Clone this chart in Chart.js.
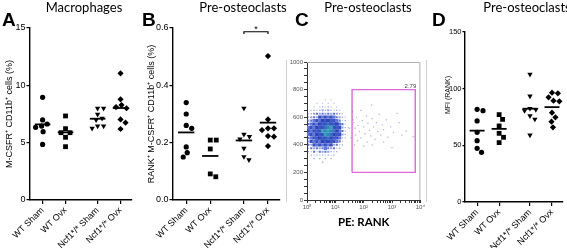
<!DOCTYPE html>
<html>
<head>
<meta charset="utf-8">
<script src="https://cdn.jsdelivr.net/npm/chart.js@4.4.1/dist/chart.umd.min.js"></script>
<style>
  body { margin: 0; background: #fff; }
  #fig { position: relative; width: 567px; height: 248px; overflow: hidden; font-family: 'Liberation Sans', Arial, sans-serif; }
  canvas, .t { position: absolute; }
  .letter { font: bold 19px 'Liberation Sans', Arial, sans-serif; line-height: 19px; top: 10px; }
  .title { font: 13px Lato, sans-serif; line-height: 13px; top: 1px; width: 120px; text-align: center; }
  .sep { position: absolute; top: 60px; height: 142px; width: 1px; background: #d0d0d0; }
  .ytitle { font: 7px 'Liberation Sans', Arial, sans-serif; line-height: 8px; width: 60px; text-align: center; transform: rotate(-90deg); color: #000; }
</style>
</head>
<body>
<div id="fig">
  <canvas id="cA" width="140" height="248" style="left:0;top:0"></canvas>
  <canvas id="cB" width="148" height="248" style="left:140px;top:0"></canvas>
  <canvas id="cC" width="138" height="248" style="left:288px;top:0"></canvas>
  <canvas id="cD" width="139" height="248" style="left:428px;top:0"></canvas>
  <div class="sep" style="left:286px"></div>
  <div class="sep" style="left:426px"></div>
  <div class="t letter" style="left:2px">A</div>
  <div class="t letter" style="left:142px">B</div>
  <div class="t letter" style="left:295px">C</div>
  <div class="t letter" style="left:432px">D</div>
  <div class="t title" style="left:24px">Macrophages</div>
  <div class="t title" style="left:183px">Pre-osteoclasts</div>
  <div class="t title" style="left:308px">Pre-osteoclasts</div>
  <div class="t title" style="left:467px">Pre-osteoclasts</div>
  <div class="t ytitle" style="left:418px;top:91px">MFI (RANK)</div>
</div>
<script>
const FONT = "'Liberation Sans', Arial, sans-serif";
Chart.defaults.animation = false;
Chart.defaults.font.family = FONT;
Chart.defaults.color = '#000';

const groupNames = ['WT Sham', 'WT Ovx', 'Ncf1*/* Sham', 'Ncf1*/* Ovx'];
const groupPos = [1, 2, 3.4, 4.4];
const markerStyles = ['circle', 'rect', 'triangle', 'rectRot'];
const markerRadius = [2.6, 3.4, 3.1, 3.1];

// A: M-CSFR+ CD11b+ cells (%)
const macroWtSham = [8.95, 6.98, 6.63, 6.45, 6.34, 5.96, 4.85];
const macroWtOvx = [7.33, 6.22, 5.87, 5.87, 5.47, 4.65];
const macroNcfSham = [7.99, 7.99, 7.47, 7.12, 6.98, 6.45, 6.45, 6.25];
const macroNcfOvx = [11.05, 8.78, 8.28, 8.1, 8.0, 7.03, 6.74, 6.19];

// B: RANK+ M-CSFR+ CD11b+ cells (%)
const preWtSham = [0.34, 0.30, 0.26, 0.25, 0.185, 0.165, 0.15];
const preWtOvx = [0.209, 0.209, 0.178, 0.091, 0.081];
const preNcfSham = [0.32, 0.229, 0.221, 0.213, 0.18, 0.151, 0.14];
const preNcfOvx = [0.502, 0.281, 0.25, 0.25, 0.244, 0.223, 0.221, 0.188];
const sigPair = [2, 3];
const sigLevel = 0.587;
const sigLabel = '*';

// D: MFI (RANK)
const mfiWtSham = [81.8, 80.6, 71.5, 61.5, 54.1, 47.4, 43.8];
const mfiWtOvx = [77.1, 72.9, 67.1, 60.6, 57.1, 52.4];
const mfiNcfSham = [112.6, 93.5, 82.5, 81.5, 80.5, 76, 73, 59];
const mfiNcfOvx = [96.5, 95.9, 92.4, 89.4, 88.8, 78.8, 74.7, 70.9, 65.9];

// C: flow plot, density read per bin (x in decades of PE, y in SSC units)
const flowYTop = 725, flowDY = 25, flowX0 = 0.05, flowDX = 0.1;
const flowDensity = [
  '000000101000000',
  '000101010100000',
  '001011111010000',
  '011112121111000',
  '112222222221100',
  '122233333322110',
  '223334444332110',
  '233344555443210',
  '333445566543211',
  '333456666543210',
  '333445665443210',
  '233444554433110',
  '233334444332100',
  '223333333221100',
  '122222322211000',
  '112122221110000',
  '011111111100000',
  '001010101000000',
  '000001000000000'
];
const flowSparse = [
  [1.5, 520], [1.55, 450], [1.62, 580], [1.65, 560], [1.7, 520], [1.72, 470], [1.75, 600],
  [1.8, 540], [1.85, 495], [1.9, 450], [1.95, 575], [2.0, 530], [2.05, 480], [2.1, 610],
  [2.12, 420], [2.15, 555], [2.2, 505], [2.25, 465], [2.28, 688], [2.3, 590], [2.35, 530],
  [2.4, 440], [2.45, 560], [2.5, 495], [2.55, 620], [2.6, 470], [2.65, 545], [2.7, 510],
  [2.8, 580], [2.85, 455], [2.95, 530], [3.05, 490], [3.18, 628], [3.25, 560], [3.35, 470],
  [3.5, 500], [3.75, 460], [1.68, 400], [1.78, 430], [2.0, 390], [2.3, 400], [2.7, 420],
  [3.0, 380], [1.6, 640], [1.9, 650]
];
const gateX = [1.59, 3.82];
const gateY = [200, 800];
const gateLabel = '2.79';
const supDigits = '⁰¹²³⁴';

function swarm(values, pxX, pxY, d) {
  const placed = [];
  return values.map(v => {
    const py = v * pxY;
    for (let s = 0; s < 80; s++) {
      const o = s === 0 ? 0 : (s % 2 ? 1 : -1) * Math.ceil(s / 2) * 0.5;
      if (placed.every(p => (p.o - o) ** 2 + (p.py - py) ** 2 >= d * d)) {
        placed.push({ o, py });
        return { x: o / pxX, y: v };
      }
    }
    return { x: 0, y: v };
  });
}

function dotChart(id, groups, cfg) {
  const xMin = 0.45, xMax = 4.9;
  const pxX = cfg.plotW / (xMax - xMin), pxY = cfg.plotH / cfg.yMax;
  const tickSize = cfg.tickFont || 9;
  const datasets = [];
  groups.forEach((vals, i) => {
    datasets.push({
      data: swarm(vals, pxX, pxY, 5.8).map(p => ({ x: groupPos[i] + p.x, y: p.y })),
      pointStyle: markerStyles[i],
      pointRotation: i === 2 ? 180 : 0,
      pointRadius: markerRadius[i],
      backgroundColor: '#000',
      borderColor: '#000',
      borderWidth: 0
    });
    const m = vals.reduce((a, b) => a + b, 0) / vals.length;
    datasets.push({
      data: [{ x: groupPos[i] - 0.34, y: m }, { x: groupPos[i] + 0.34, y: m }],
      showLine: true, borderColor: '#000', borderWidth: 1.8, pointRadius: 0
    });
  });
  if (cfg.extra) datasets.push(...cfg.extra);

  return new Chart(document.getElementById(id), {
    type: 'scatter',
    data: { datasets },
    options: {
      responsive: false,
      events: [],
      layout: { padding: { top: cfg.top, right: cfg.right, left: 0, bottom: 0 } },
      plugins: { legend: { display: false }, tooltip: { enabled: false } },
      scales: {
        x: {
          type: 'linear', min: xMin, max: xMax,
          afterBuildTicks: s => { s.ticks = groupPos.map(v => ({ value: v })); },
          afterFit: s => { s.height = cfg.xAxisH; },
          ticks: {
            autoSkip: false, maxRotation: 45, minRotation: 45, padding: 1,
            font: { size: 9 }, color: '#000',
            callback: v => groupNames[groupPos.indexOf(v)]
          },
          grid: { drawOnChartArea: false, color: '#000', tickLength: 4, lineWidth: 1.2 },
          border: { color: '#000', width: 1.4 }
        },
        y: {
          min: 0, max: cfg.yMax,
          afterFit: s => { s.width = cfg.yAxisW; },
          ticks: {
            stepSize: cfg.yStep, padding: 1, font: { size: tickSize }, color: '#000',
            callback: v => v.toFixed(cfg.decimals || 0)
          },
          grid: { drawOnChartArea: false, color: '#000', tickLength: cfg.tickLen || 3.5, lineWidth: 1.2 },
          border: { color: '#000', width: 1.4 },
          title: {
            display: !!cfg.yTitle, text: cfg.yTitle, font: { size: 9 }, color: '#000',
            padding: { top: cfg.titlePad || 0, bottom: 0 }
          }
        }
      }
    },
    plugins: cfg.plugins || []
  });
}

// A
dotChart('cA', [macroWtSham, macroWtOvx, macroNcfSham, macroNcfOvx], {
  plotW: 102, plotH: 172, yMax: 15, yStep: 5, top: 28, right: 8, yAxisW: 30, xAxisH: 48,
  yTitle: 'M-CSFR⁺ CD11b⁺ cells (%)', titlePad: 4.6
});

// B
const sigPlugin = {
  id: 'sig',
  afterDatasetsDraw(chart) {
    const { ctx, scales: { x, y } } = chart;
    const xm = (x.getPixelForValue(groupPos[sigPair[0]]) + x.getPixelForValue(groupPos[sigPair[1]])) / 2;
    ctx.save();
    ctx.font = `9px ${FONT}`;
    ctx.textAlign = 'center';
    ctx.fillStyle = '#000';
    ctx.fillText(sigLabel, xm, y.getPixelForValue(sigLevel));
    ctx.restore();
  }
};
dotChart('cB', [preWtSham, preWtOvx, preNcfSham, preNcfOvx], {
  plotW: 107, plotH: 172, yMax: 0.6, yStep: 0.2, decimals: 1, top: 28, right: 8, yAxisW: 33, xAxisH: 48,
  yTitle: 'RANK⁺ M-CSFR⁺ CD11b⁺ cells (%)', titlePad: 6.6,
  extra: [{
    data: [
      { x: groupPos[sigPair[0]], y: sigLevel - 0.008 }, { x: groupPos[sigPair[0]], y: sigLevel },
      { x: groupPos[sigPair[1]], y: sigLevel }, { x: groupPos[sigPair[1]], y: sigLevel - 0.008 }
    ],
    showLine: true, borderColor: '#000', borderWidth: 1.2, pointRadius: 0
  }],
  plugins: [sigPlugin]
});

// D
dotChart('cD', [mfiWtSham, mfiWtOvx, mfiNcfSham, mfiNcfOvx], {
  plotW: 100, plotH: 170, yMax: 150, yStep: 50, top: 32, right: 2, yAxisW: 37, xAxisH: 46,
  tickFont: 7.5, tickLen: 2.5
});

// C
const levelColor = [
  [], ['rgba(110,130,220,0.45)', 'rgba(70,90,200,0.55)'], ['rgba(80,100,215,0.6)', 'rgba(50,70,190,0.75)'],
  ['#6078d8', '#3a50c2'], ['#3f58c8', '#2c43b6'], ['#3c6cc4', '#2f52be'], ['#3aa2b8', '#3584c0']
];
const levelRadius = [0, 0.9, 1.5, 2.3, 2.5, 2.5, 2.5];
const flowCells = [];
flowDensity.forEach((row, r) => {
  [...row].forEach((ch, c) => {
    const level = +ch;
    if (level > 0) flowCells.push({ x: flowX0 + c * flowDX, y: flowYTop - r * flowDY, level, shade: (r + c) % 2 });
  });
});
flowCells.sort((a, b) => a.level - b.level);

const flowTicks = [];
for (let n = 0; n < 4; n++) for (let k = 1; k < 10; k++) flowTicks.push(n + Math.log10(k));
flowTicks.push(4);

const flowFrame = {
  id: 'flowFrame',
  beforeDatasetsDraw(chart) {
    const { ctx, chartArea: a } = chart;
    ctx.save();
    ctx.strokeStyle = '#b0b0b0';
    ctx.lineWidth = 1;
    ctx.beginPath();
    ctx.moveTo(a.left, a.top + 0.5);
    ctx.lineTo(a.right - 0.5, a.top + 0.5);
    ctx.lineTo(a.right - 0.5, a.bottom);
    ctx.stroke();
    ctx.restore();
  },
  afterDatasetsDraw(chart) {
    const { ctx, scales: { x, y } } = chart;
    ctx.save();
    ctx.font = `6px ${FONT}`;
    ctx.textAlign = 'right';
    ctx.fillStyle = '#444';
    ctx.fillText(gateLabel, x.getPixelForValue(gateX[1]) + 1, y.getPixelForValue(gateY[1]) - 1.5);
    ctx.restore();
  }
};

new Chart(document.getElementById('cC'), {
  type: 'scatter',
  data: {
    datasets: [
      {
        data: flowCells, pointStyle: 'rect', borderWidth: 0,
        pointRadius: c => levelRadius[c.raw.level],
        backgroundColor: c => levelColor[c.raw.level][c.raw.shade]
      },
      {
        data: flowSparse.map(([x, y]) => ({ x, y })), pointStyle: 'rect', borderWidth: 0,
        pointRadius: 0.9, backgroundColor: 'rgba(110,110,200,0.5)'
      },
      {
        data: [
          { x: gateX[0], y: gateY[0] }, { x: gateX[0], y: gateY[1] }, { x: gateX[1], y: gateY[1] },
          { x: gateX[1], y: gateY[0] }, { x: gateX[0], y: gateY[0] }
        ],
        showLine: true, borderColor: '#e066d8', borderWidth: 1.4, pointRadius: 0
      }
    ]
  },
  options: {
    responsive: false,
    events: [],
    layout: { padding: { top: 62, right: 2, left: 0, bottom: 0 } },
    plugins: { legend: { display: false }, tooltip: { enabled: false } },
    scales: {
      x: {
        type: 'linear', min: 0, max: 4,
        afterBuildTicks: s => { s.ticks = flowTicks.map(v => ({ value: v })); },
        afterFit: s => { s.height = 48; },
        ticks: {
          autoSkip: false, maxRotation: 0, padding: 1, font: { size: 6 }, color: '#555',
          callback: v => Math.abs(v - Math.round(v)) < 1e-9 ? '10' + supDigits[Math.round(v)] : ''
        },
        grid: { drawOnChartArea: false, color: '#333', tickLength: 3 },
        border: { color: '#333', width: 1 },
        title: {
          display: true, text: 'PE: RANK', color: '#000',
          font: { family: 'Lato, sans-serif', size: 11.5, weight: 'bold' },
          padding: { top: 0, bottom: 19 }
        }
      },
      y: {
        min: 0, max: 1000,
        afterFit: s => { s.width = 19; },
        ticks: {
          stepSize: 50, padding: 1, font: { size: 6 }, color: '#555', autoSkip: false,
          callback: v => v % 200 === 0 ? String(v) : ''
        },
        grid: { drawOnChartArea: false, color: '#333', tickLength: 3 },
        border: { color: '#333', width: 1 }
      }
    }
  },
  plugins: [flowFrame]
});
</script>
</body>
</html>
